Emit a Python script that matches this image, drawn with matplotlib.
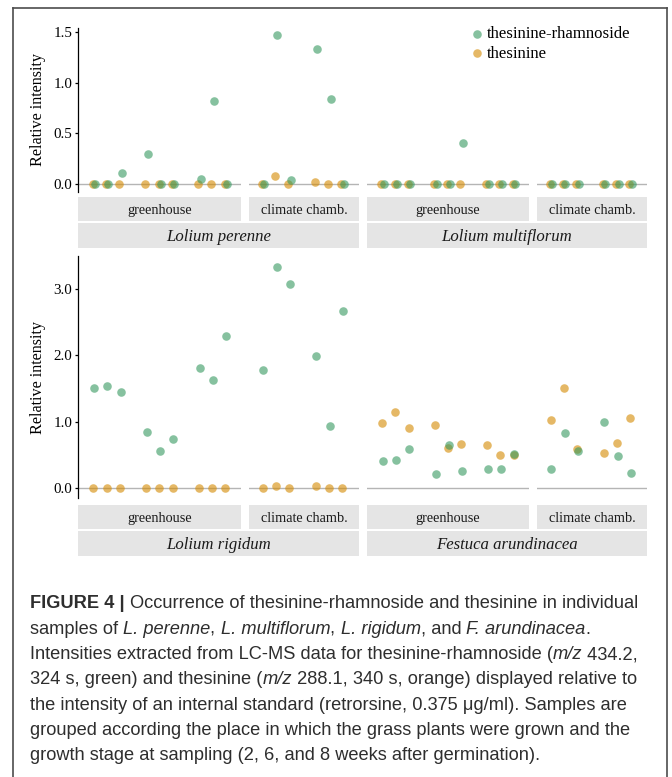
import matplotlib
matplotlib.use("Agg")
import matplotlib.pyplot as plt
from matplotlib.lines import Line2D
import numpy as np

W, H = 672, 777
DPI = 100

GREEN = "#35995f"
ORANGE = "#d58a00"
ALPHA = 0.6
STRIP = "#e5e5e5"
HLINE = "#b5b5b5"
CAP_COLOR = "#2e2e2e"

plt.rcParams["font.family"] = ["Liberation Serif", "DejaVu Serif"]

rham_label = "thesinine-rhamnoside"
thes_label = "thesinine"
places = ["greenhouse", "climate chamb."]
gh_weeks = [2, 6, 8]
cc_weeks = [6, 8]
n_rep = 3

species_top = ["Lolium perenne", "Lolium multiflorum"]
species_bot = ["Lolium rigidum", "Festuca arundinacea"]

# relative intensities, one value per sample
perenne_gh_rham = [0, 0, 0.11, 0.30, 0, 0, 0.05, 0.82, 0]
perenne_gh_thes = [0, 0, 0, 0, 0, 0, 0, 0, 0]
perenne_cc_rham = [0, 1.47, 0.04, 1.33, 0.84, 0]
perenne_cc_thes = [0, 0.075, 0, 0.023, 0, 0]

multi_gh_rham = [0, 0, 0, 0, 0, 0.40, 0, 0, 0]
multi_gh_thes = [0, 0, 0, 0, 0, 0, 0, 0, 0]
multi_cc_rham = [0, 0, 0, 0, 0, 0]
multi_cc_thes = [0, 0, 0, 0, 0, 0]

rigidum_gh_rham = [1.51, 1.54, 1.45, 0.85, 0.56, 0.74, 1.81, 1.63, 2.29]
rigidum_gh_thes = [0, 0, 0, 0, 0, 0, 0, 0, 0]
rigidum_cc_rham = [1.78, 3.33, 3.07, 1.98, 0.94, 2.66]
rigidum_cc_thes = [0, 0.035, 0, 0.025, 0, 0]

festuca_gh_rham = [0.40, 0.42, 0.59, 0.21, 0.64, 0.25, 0.29, 0.28, 0.51]
festuca_gh_thes = [0.98, 1.14, 0.91, 0.95, 0.60, 0.66, 0.64, 0.50, 0.50]
festuca_cc_rham = [0.29, 0.83, 0.55, 1.00, 0.48, 0.22]
festuca_cc_thes = [1.03, 1.50, 0.58, 0.52, 0.68, 1.06]

top_ticks = [0.0, 0.5, 1.0, 1.5]
bot_ticks = [0.0, 1.0, 2.0, 3.0]

caption_lines = [
    [("FIGURE 4 | ", "bold", "normal"),
     ("Occurrence of thesinine-rhamnoside and thesinine in individual", "normal", "normal")],
    [("samples of ", "normal", "normal"), ("L. perenne", "normal", "italic"),
     (", ", "normal", "normal"), ("L. multiflorum", "normal", "italic"),
     (", ", "normal", "normal"), ("L. rigidum", "normal", "italic"),
     (", and ", "normal", "normal"), ("F. arundinacea", "normal", "italic"),
     (".", "normal", "normal")],
    [("Intensities extracted from LC-MS data for thesinine-rhamnoside (", "normal", "normal"),
     ("m/z", "normal", "italic"), (" 434.2,", "normal", "normal")],
    [("324 s, green) and thesinine (", "normal", "normal"), ("m/z", "normal", "italic"),
     (" 288.1, 340 s, orange) displayed relative to", "normal", "normal")],
    [("the intensity of an internal standard (retrorsine, 0.375 \u03bcg/ml). Samples are", "normal", "normal")],
    [("grouped according the place in which the grass plants were grown and the", "normal", "normal")],
    [("growth stage at sampling (2, 6, and 8 weeks after germination).", "normal", "normal")],
]


def slots(n_groups):
    return np.array([g * (n_rep + 1) + r + 1 for g in range(n_groups) for r in range(n_rep)], float)


def px_axes(fig, x0, x1, y0, y1):
    return fig.add_axes([x0 / W, 1 - y1 / H, (x1 - x0) / W, (y1 - y0) / H])


fig = plt.figure(figsize=(W / DPI, H / DPI), dpi=DPI)

cols = [(78, 241), (249, 359), (367, 529), (537, 647)]
xlims = [(-0.2, 12.15), (-0.05, 8.25)]

rows = [
    dict(panel=(28, 192), strip1=(197, 221), strip2=(223, 248), ylim=(-0.079, 1.54),
         ticks=top_ticks, dodge=0.2, species=species_top,
         data=[(perenne_gh_rham, perenne_gh_thes), (perenne_cc_rham, perenne_cc_thes),
               (multi_gh_rham, multi_gh_thes), (multi_cc_rham, multi_cc_thes)]),
    dict(panel=(256, 498), strip1=(505, 529), strip2=(531, 556), ylim=(-0.15, 3.49),
         ticks=bot_ticks, dodge=0.06, species=species_bot,
         data=[(rigidum_gh_rham, rigidum_gh_thes), (rigidum_cc_rham, rigidum_cc_thes),
               (festuca_gh_rham, festuca_gh_thes), (festuca_cc_rham, festuca_cc_thes)]),
]

handles = None
for row in rows:
    py0, py1 = row["panel"]
    for i, (cx0, cx1) in enumerate(cols):
        ax = px_axes(fig, cx0, cx1, py0, py1)
        rham, thes = row["data"][i]
        xs = slots(len(gh_weeks) if i % 2 == 0 else len(cc_weeks))
        d = row["dodge"]
        ax.axhline(0, color=HLINE, lw=1.0, zorder=1)
        ho = ax.scatter(xs - d / 2, thes, s=38, color=ORANGE, alpha=ALPHA, lw=0, zorder=2, clip_on=False)
        hg = ax.scatter(xs + d / 2, rham, s=38, color=GREEN, alpha=ALPHA, lw=0, zorder=3, clip_on=False)
        if handles is None:
            handles = [hg, ho]
        ax.set_xlim(xlims[i % 2])
        ax.set_ylim(row["ylim"])
        ax.patch.set_alpha(0)
        for sp in ax.spines.values():
            sp.set_visible(False)
        ax.set_xticks([])
        if i == 0:
            ax.spines["left"].set_visible(True)
            ax.spines["left"].set_linewidth(0.9)
            ax.set_yticks(row["ticks"])
            ax.set_yticklabels(["%.1f" % t for t in row["ticks"]])
            ax.tick_params(axis="y", length=2.5, width=0.9, pad=1.5, labelsize=10.8, colors="black")
        else:
            ax.set_yticks([])

        # place strip
        sx = px_axes(fig, cx0, cx1, *row["strip1"])
        sx.set_facecolor(STRIP)
        sx.set_xticks([]); sx.set_yticks([])
        for sp in sx.spines.values():
            sp.set_visible(False)
        sx.text(0.5, 0.45, places[i % 2], ha="center", va="center", fontsize=10.3,
                transform=sx.transAxes, color="#1a1a1a")

    # species strips
    for j in range(2):
        sx = px_axes(fig, cols[2 * j][0], cols[2 * j + 1][1], *row["strip2"])
        sx.set_facecolor(STRIP)
        sx.set_xticks([]); sx.set_yticks([])
        for sp in sx.spines.values():
            sp.set_visible(False)
        sx.text(0.5, 0.45, row["species"][j], ha="center", va="center", fontsize=12.1,
                style="italic", transform=sx.transAxes, color="#1a1a1a")

    fig.text(38 / W, 1 - (py0 + py1) / 2 / H, "Relative intensity", rotation=90,
             ha="center", va="center", fontsize=11.6)

fig.legend(handles=handles, labels=[rham_label, thes_label], loc="upper left",
           bbox_to_anchor=(470 / W, 1 - 26 / H), frameon=False, fontsize=12.1,
           handletextpad=0.2, labelspacing=0.22, borderpad=0, borderaxespad=0,
           handlelength=0.8, scatterpoints=1)

# page frame
fc = "#4d4d4d"
fig.add_artist(Line2D([13 / W, 13 / W], [0, 1 - 8 / H], transform=fig.transFigure, color=fc, lw=1.2))
fig.add_artist(Line2D([667 / W, 667 / W], [0, 1 - 8 / H], transform=fig.transFigure, color=fc, lw=1.2))
fig.add_artist(Line2D([13 / W, 667 / W], [1 - 8 / H, 1 - 8 / H], transform=fig.transFigure, color=fc, lw=1.2))

# caption, drawn run by run
renderer = fig.canvas.get_renderer()


def advance(txt, size, weight, style):
    kw = dict(fontsize=size, family="Liberation Sans", weight=weight, style=style)
    a = fig.text(0, 0, "|" + txt + "|", **kw)
    b = fig.text(0, 0, "||", **kw)
    w = a.get_window_extent(renderer).width - b.get_window_extent(renderer).width
    a.remove()
    b.remove()
    return w


ref_w = advance(caption_lines[5][0][0], 12, "normal", "normal")
cap_size = 12 * 602 / ref_w

for k, line in enumerate(caption_lines):
    x = 30.0
    y = 604 + 25.3 * k
    for txt, weight, style in line:
        fig.text(x / W, 1 - y / H, txt, fontsize=cap_size, family="Liberation Sans",
                 weight=weight, style=style, ha="left", va="center", color=CAP_COLOR)
        x += advance(txt, cap_size, weight, style)

fig.savefig("out.png", dpi=DPI)
